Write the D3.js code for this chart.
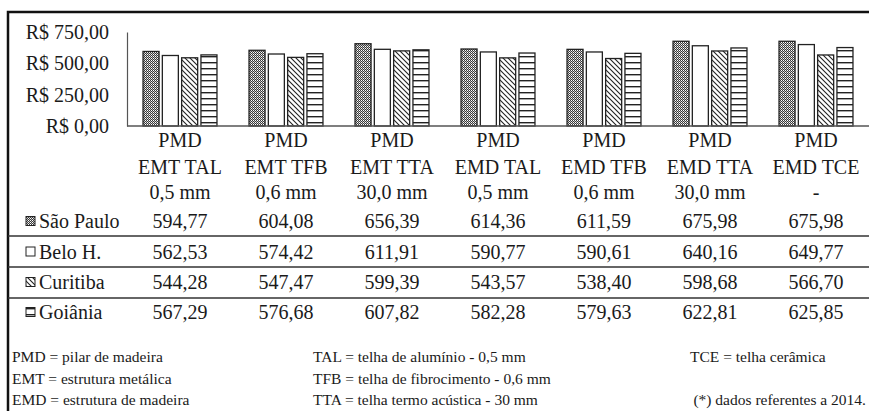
<!DOCTYPE html>
<html>
<head>
<meta charset="utf-8">
<script src="https://cdn.jsdelivr.net/npm/d3@7"></script>
<style>
  html, body { margin: 0; padding: 0; background: #fff; }
  svg { display: block; }
  svg text { font-family: "Liberation Serif", "DejaVu Serif", serif !important; fill: #1a1a1a; }
</style>
</head>
<body>
<svg id="chart" width="869" height="411" font-family="Liberation Serif, serif"></svg>
<script>
// ---------- data ----------
const categories = [
  ["PMD", "EMT TAL", "0,5 mm"],
  ["PMD", "EMT TFB", "0,6 mm"],
  ["PMD", "EMT TTA", "30,0 mm"],
  ["PMD", "EMD TAL", "0,5 mm"],
  ["PMD", "EMD TFB", "0,6 mm"],
  ["PMD", "EMD TTA", "30,0 mm"],
  ["PMD", "EMD TCE", "-"]
];
const seriesNames = ["São Paulo", "Belo H.", "Curitiba", "Goiânia"];
const saoPaulo = [594.77, 604.08, 656.39, 614.36, 611.59, 675.98, 675.98];
const beloH    = [562.53, 574.42, 611.91, 590.77, 590.61, 640.16, 649.77];
const curitiba = [544.28, 547.47, 599.39, 543.57, 538.40, 598.68, 566.70];
const goiania  = [567.29, 576.68, 607.82, 582.28, 579.63, 622.81, 625.85];
const seriesValues = [saoPaulo, beloH, curitiba, goiania];
const yTicks = [0, 250, 500, 750];
const footnotes = [
  ["PMD = pilar de madeira", "EMT = estrutura metálica", "EMD = estrutura de madeira"],
  ["TAL = telha de alumínio - 0,5 mm", "TFB = telha de fibrocimento - 0,6 mm", "TTA = telha termo acústica - 30 mm"],
  ["TCE = telha cerâmica", "", "(*) dados referentes a 2014."]
];

// ---------- drawing ----------
const FONT = '"Liberation Serif", serif';
const svg = d3.select("#chart");
const defs = svg.append("defs");

// patterns
const pSP = defs.append("pattern").attr("id", "pat0").attr("patternUnits", "userSpaceOnUse")
  .attr("width", 2).attr("height", 2);
pSP.append("rect").attr("width", 2).attr("height", 2).attr("fill", "#3a3a3a");
pSP.append("rect").attr("width", 1).attr("height", 1).attr("fill", "#ffffff");
pSP.append("rect").attr("x", 1).attr("y", 1).attr("width", 1).attr("height", 1).attr("fill", "#bdbdbd");

const pCur = defs.append("pattern").attr("id", "pat2").attr("patternUnits", "userSpaceOnUse")
  .attr("width", 5).attr("height", 5);
pCur.append("rect").attr("width", 5).attr("height", 5).attr("fill", "#fff");
pCur.append("path").attr("d", "M-1,-1 L6,6 M-1,4 L1,6 M4,-1 L6,1")
  .attr("stroke", "#222").attr("stroke-width", 1.1);

const pGoi = defs.append("pattern").attr("id", "pat3").attr("patternUnits", "userSpaceOnUse")
  .attr("width", 6).attr("height", 6);
pGoi.append("rect").attr("width", 6).attr("height", 6).attr("fill", "#fff");
pGoi.append("rect").attr("y", 2).attr("width", 6).attr("height", 1.4).attr("fill", "#222");

const fills = ["url(#pat0)", "#ffffff", "url(#pat2)", "url(#pat3)"];

const x0 = d3.scaleBand().domain(d3.range(categories.length)).range([127, 869]).padding(0);
const x1 = d3.scaleBand().domain(d3.range(seriesNames.length)).range([0, x0.bandwidth()])
  .paddingInner(0.17).paddingOuter(0.83);
const y = d3.scaleLinear().domain([0, 750]).range([126, 32]);

// frame
svg.append("path").attr("d", "M8,411 L8,12 L869,12")
  .attr("fill", "none").attr("stroke", "#111").attr("stroke-width", 2.5);

// y axis
const fmt = v => d3.format(".2f")(v).replace(".", ",");
const yAxis = d3.axisLeft(y).tickValues(yTicks).tickSize(0).tickSizeOuter(0).tickPadding(18)
  .tickFormat(v => "R$ " + fmt(v));
const gy = svg.append("g").attr("transform", "translate(127,0)").call(yAxis);
gy.attr("font-family", FONT).attr("font-size", 20);
gy.select(".domain").attr("stroke", "#555").attr("stroke-width", 1.2);
gy.selectAll("text").attr("font-size", 20).attr("fill", "#1a1a1a").attr("font-family", FONT);

// bars
const groups = svg.append("g").selectAll("g").data(categories).join("g")
  .attr("transform", (d, i) => `translate(${x0(i)},0)`);
groups.selectAll("rect").data((d, i) => seriesValues.map((s, k) => ({ k, v: s[i] }))).join("rect")
  .attr("x", d => x1(d.k))
  .attr("width", x1.bandwidth())
  .attr("y", d => y(d.v))
  .attr("height", d => y(0) - y(d.v))
  .attr("fill", d => fills[d.k])
  .attr("stroke", "#222").attr("stroke-width", 1.3);

// baseline
svg.append("line").attr("x1", 127).attr("x2", 869).attr("y1", y(0)).attr("y2", y(0))
  .attr("stroke", "#555").attr("stroke-width", 1.5);

function txt(x, yy, t, size, anchor) {
  return svg.append("text").attr("x", x).attr("y", yy).attr("dy", "0.35em")
    .attr("text-anchor", anchor || "start").attr("font-size", size)
    .attr("font-family", FONT).text(t);
}

// category labels
const catY = [140, 166.5, 192];
categories.forEach((lines, i) => {
  lines.forEach((t, j) => txt(x0(i) + x0.bandwidth() / 2, catY[j], t, 20, "middle"));
});

// data table rows
const rowY = [221, 251.5, 282, 312];
const lineY = [236, 267, 298];
lineY.forEach(ly => {
  svg.append("line").attr("x1", 8).attr("x2", 869).attr("y1", ly).attr("y2", ly)
    .attr("stroke", "#333").attr("stroke-width", 1.5);
});
seriesNames.forEach((name, k) => {
  svg.append("rect").attr("x", 26).attr("y", rowY[k] - 4.5).attr("width", 9).attr("height", 9)
    .attr("fill", fills[k]).attr("stroke", "#222").attr("stroke-width", 1);
  txt(39, rowY[k], name, 20);
  seriesValues[k].forEach((v, i) => txt(x0(i) + x0.bandwidth() / 2, rowY[k], fmt(v), 20, "middle"));
});

// footnotes
const fnX = [[12, 12, 12], [313, 313, 313], [690, 690, 866]];
const fnA = [["start", "start", "start"], ["start", "start", "start"], ["start", "start", "end"]];
const fnY = [357, 378.5, 400];
footnotes.forEach((col, c) => {
  col.forEach((t, r) => {
    if (!t) return;
    txt(fnX[c][r], fnY[r], t, 15.5, fnA[c][r]);
  });
});
</script>
</body>
</html>
